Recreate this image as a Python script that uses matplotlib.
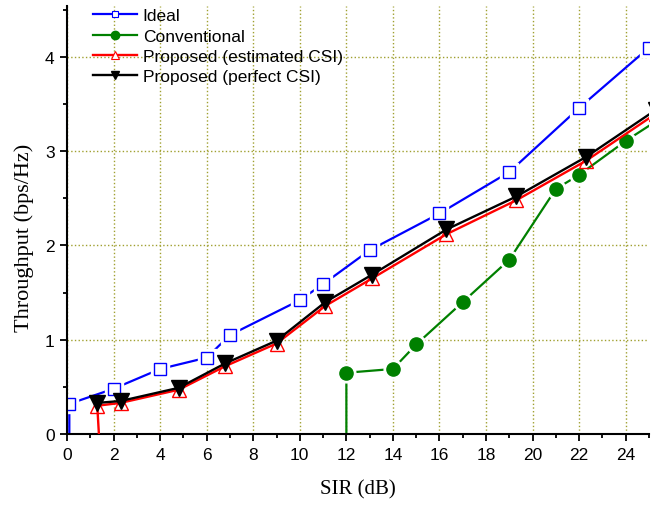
import matplotlib
matplotlib.use("Agg")
import matplotlib.pyplot as plt
from matplotlib.ticker import MultipleLocator

# data (SIR in dB, throughput in bps/Hz)
ideal_x = [0.1, 0.1, 2, 4, 6, 7, 10, 11, 13, 16, 19, 22, 25]
ideal_y = [0, 0.32, 0.48, 0.69, 0.81, 1.05, 1.42, 1.59, 1.95, 2.34, 2.78, 3.46, 4.10]

conv_x = [12, 12, 14, 15, 17, 19, 21, 22, 24, 26]
conv_y = [0, 0.65, 0.69, 0.95, 1.40, 1.85, 2.60, 2.75, 3.11, 3.43]

est_x = [1.37, 1.3, 2.3, 4.8, 6.8, 9.0, 11.1, 13.1, 16.3, 19.3, 22.3, 25.3]
est_y = [0, 0.30, 0.33, 0.47, 0.72, 0.96, 1.36, 1.65, 2.12, 2.48, 2.90, 3.40]

perf_x = [1.3, 2.3, 4.8, 6.8, 9.0, 11.1, 13.1, 16.3, 19.3, 22.3, 25.3]
perf_y = [0.33, 0.35, 0.49, 0.75, 0.99, 1.40, 1.69, 2.17, 2.52, 2.94, 3.44]

labels = ["Ideal", "Conventional", "Proposed (estimated CSI)", "Proposed (perfect CSI)"]

sans = ["Liberation Sans", "DejaVu Sans"]
serif = ["Liberation Serif", "DejaVu Serif"]

fig = plt.figure(figsize=(6.68, 5.06), dpi=100)
ax = fig.add_axes([0.1003, 0.1403, 0.8713, 0.8457])

# ideal: line, white gap around markers, hollow squares
ax.plot(ideal_x, ideal_y, color="blue", lw=1.6, zorder=2)
ax.plot(ideal_x[1:], ideal_y[1:], ls="none", marker="s", ms=13, color="white", zorder=2.1)
ax.plot(ideal_x[1:], ideal_y[1:], ls="none", marker="s", ms=9, mfc="none",
        mec="blue", mew=1.0, zorder=2.2)

# conventional
ax.plot(conv_x, conv_y, color="green", lw=1.6, zorder=2)
ax.plot(conv_x[1:], conv_y[1:], ls="none", marker="o", ms=13.5, color="white", zorder=2.1)
ax.plot(conv_x[1:], conv_y[1:], ls="none", marker="o", ms=9.5, color="green", zorder=2.2)

# proposed
ax.plot(est_x, est_y, color="red", lw=1.7, zorder=3)
ax.plot(est_x[1:], est_y[1:], ls="none", marker="^", ms=10, mfc="none",
        mec="red", mew=1.0, zorder=3.1)
ax.plot(perf_x, perf_y, color="black", lw=1.7, zorder=3.2)
ax.plot(perf_x, perf_y, ls="none", marker="v", ms=11, color="black", zorder=3.3)

# legend proxies with small markers
h1, = ax.plot([], [], color="blue", lw=1.6, marker="s", ms=5, mfc="white", mec="blue", mew=0.8)
h2, = ax.plot([], [], color="green", lw=1.6, marker="o", ms=6)
h3, = ax.plot([], [], color="red", lw=1.7, marker="^", ms=6, mfc="white", mec="red", mew=0.8)
h4, = ax.plot([], [], color="black", lw=1.7, marker="v", ms=6)
ax.legend([h1, h2, h3, h4], labels,
          loc="upper left", bbox_to_anchor=(0.045, 0.995), frameon=False,
          prop={"family": sans, "size": 12.5}, handlelength=2.5,
          handletextpad=0.35, labelspacing=0.3, borderpad=0, borderaxespad=0)

ax.set_xlim(0, 25)
ax.set_ylim(0, 4.54)
ax.xaxis.set_major_locator(MultipleLocator(2))
ax.xaxis.set_minor_locator(MultipleLocator(1))
ax.yaxis.set_major_locator(MultipleLocator(1))
ax.yaxis.set_minor_locator(MultipleLocator(0.5))

ax.grid(True, which="major", color="#a0a030", ls=":", lw=1.0)
ax.set_axisbelow(True)

ax.spines["top"].set_visible(False)
ax.spines["right"].set_visible(False)
ax.spines["left"].set_linewidth(1.5)
ax.spines["bottom"].set_linewidth(1.5)

ax.tick_params(which="major", direction="out", length=5, width=1.3, pad=4, labelsize=12.5)
ax.tick_params(which="minor", direction="out", length=3, width=1.3)
for lab in ax.get_xticklabels() + ax.get_yticklabels():
    lab.set_family(sans)

ax.set_xlabel("SIR (dB)", family=serif, fontsize=15, labelpad=13)
ax.set_ylabel("Throughput (bps/Hz)", family=serif, fontsize=16)
ax.yaxis.set_label_coords(-0.056, 0.46)

fig.savefig("out.png", dpi=100)
